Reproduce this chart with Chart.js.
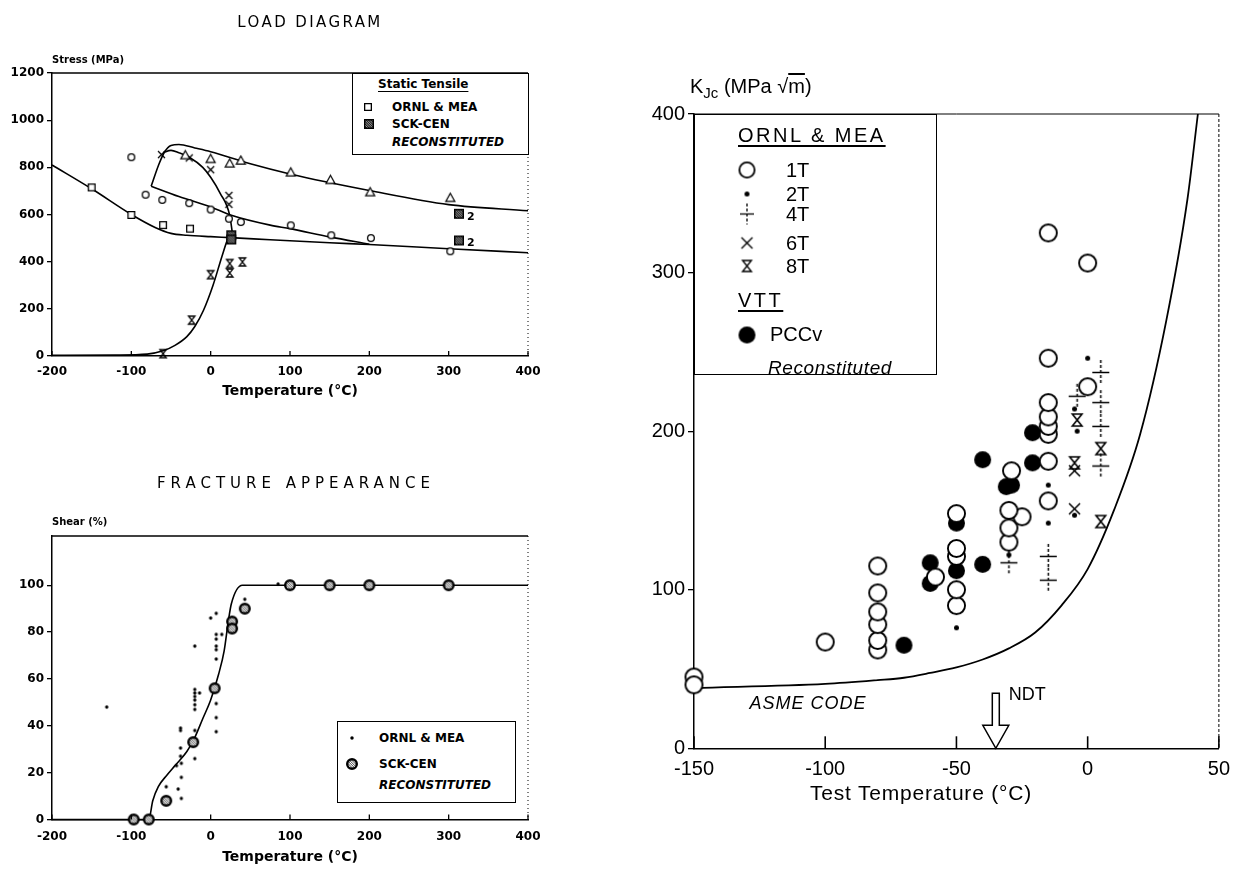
<!DOCTYPE html>
<html>
<head>
<meta charset="utf-8">
<title>Load diagram, fracture appearance and KJc</title>
<script src="https://cdn.jsdelivr.net/npm/chart.js@4.4.1/dist/chart.umd.min.js"></script>
<style>
  body { margin: 0; width: 1239px; height: 872px; position: relative; overflow: hidden; background: #fff; color: #000; font-family: "Liberation Sans", Arial, sans-serif; }
  canvas.plot { position: absolute; }
  .t { position: absolute; white-space: nowrap; line-height: 1; transform: translateY(-50%); }
  .c { transform: translate(-50%, -50%); }
  .b { font-family: "DejaVu Sans", sans-serif; font-weight: bold; }
  .box { position: absolute; border: 1.5px solid #000; background: #fff; box-sizing: border-box; }
  .sym { position: absolute; transform: translate(-50%, -50%); }
  u { text-underline-offset: 3px; }
</style>
</head>
<body>

<!-- LOAD DIAGRAM -->
<canvas id="load" class="plot" width="560" height="410" style="left:0;top:0"></canvas>
<div class="t c" style="left:310px;top:22px;font-size:15px;letter-spacing:2.4px;font-family:'DejaVu Sans'">LOAD DIAGRAM</div>
<div class="t b" style="left:52px;top:60px;font-size:10px">Stress (MPa)</div>
<div class="box" style="left:352px;top:73px;width:177px;height:82px"></div>
<div class="t b" style="left:378px;top:84px;font-size:12px"><u>Static Tensile</u></div>
<div class="t b" style="left:392px;top:107px;font-size:12px">ORNL &amp; MEA</div>
<div class="t b" style="left:392px;top:124px;font-size:12px">SCK-CEN</div>
<div class="t b" style="left:392px;top:142px;font-size:12px;font-style:italic">RECONSTITUTED</div>

<!-- FRACTURE APPEARANCE -->
<canvas id="shear" class="plot" width="560" height="410" style="left:0;top:460px"></canvas>
<div class="t c" style="left:296px;top:483px;font-size:15px;letter-spacing:5px;font-family:'DejaVu Sans'">FRACTURE APPEARANCE</div>
<div class="t b" style="left:52px;top:522px;font-size:10px">Shear (%)</div>
<div class="box" style="left:337px;top:721px;width:179px;height:82px"></div>
<div class="t b" style="left:379px;top:738px;font-size:12px">ORNL &amp; MEA</div>
<div class="t b" style="left:379px;top:764px;font-size:12px">SCK-CEN</div>
<div class="t b" style="left:379px;top:785px;font-size:12px;font-style:italic">RECONSTITUTED</div>

<!-- KJc -->
<canvas id="kjc" class="plot" width="649" height="780" style="left:590px;top:60px"></canvas>
<div class="t" style="left:690px;top:88px;font-size:20px">K<sub style="font-size:15px;vertical-align:-5px">Jc</sub> (MPa √<span style="text-decoration:overline">m</span>)</div>
<div class="box" style="left:694px;top:114px;width:243px;height:261px"></div>
<div class="t" style="left:738px;top:135px;font-size:20px;letter-spacing:2.5px"><u>ORNL &amp; MEA</u></div>
<div class="t" style="left:786px;top:170px;font-size:20px">1T</div>
<div class="t" style="left:786px;top:194px;font-size:20px">2T</div>
<div class="t" style="left:786px;top:214px;font-size:20px">4T</div>
<div class="t" style="left:786px;top:243px;font-size:20px">6T</div>
<div class="t" style="left:786px;top:266px;font-size:20px">8T</div>
<div class="t" style="left:738px;top:300px;font-size:20px;letter-spacing:2.5px"><u>VTT</u></div>
<div class="t" style="left:770px;top:334px;font-size:20px">PCCv</div>
<div class="t" style="left:768px;top:367px;font-size:19px;font-style:italic;letter-spacing:0.6px">Reconstituted</div>
<div class="t c" style="left:808px;top:703px;font-size:18px;font-style:italic;letter-spacing:1px">ASME CODE</div>
<div class="t c" style="left:921px;top:792px;font-size:21px;letter-spacing:0.8px">Test Temperature (°C)</div>

<script>
// ===== LOAD DIAGRAM (temperature °C, stress MPa) =====
const loadTempTicks = [-200, -100, 0, 100, 200, 300, 400];
const stressTicks = [0, 200, 400, 600, 800, 1000, 1200];

const ornlSquareT = [-150, -100, -60, -26];
const ornlSquareS = [715, 598, 555, 540];
const ornlCircleT = [-100, -82, -61, -27, 0, 23, 38, 101, 152, 202, 302];
const ornlCircleS = [843, 684, 662, 648, 621, 582, 568, 554, 512, 500, 444];
const ornlTriT = [-32, 0, 24, 38, 101, 151, 201, 302];
const ornlTriS = [852, 836, 817, 829, 779, 747, 695, 671];
const ornlCrossT = [-62, -27, 0, 23, 23];
const ornlCrossS = [854, 840, 790, 681, 643];
const ornlGlassT = [-60, -24, 0, 24, 24, 40];
const ornlGlassS = [10, 152, 345, 392, 352, 399];
const sckSquareT = [26, 26, 313, 313];
const sckSquareS = [512, 494, 603, 490];
const noteT = [313, 313];
const noteS = [603, 490];
const noteText = ['2', '2'];

const lowerCurveT = [-200, -150, -100, -70, -50, -30, 0, 25, 75, 150, 200, 300, 400];
const lowerCurveS = [810, 709, 600, 545, 520, 512, 506, 502, 493, 480, 473, 455, 438];
const upperCurveT = [-75, -65, -58, -50, -40, -20, 0, 50, 100, 200, 300, 400];
const upperCurveS = [720, 815, 866, 893, 897, 882, 866, 815, 772, 702, 642, 616];
const yieldCurveT = [-75, -40, 0, 25, 75, 100, 150, 200];
const yieldCurveS = [720, 676, 632, 598, 555, 540, 505, 474];
const dropCurveT = [-60, -50, -40, -27, -10, 0, 12, 24, 28];
const dropCurveS = [862, 872, 862, 843, 800, 758, 690, 596, 505];
const riseCurveT = [-200, -120, -80, -60, -45, -30, -20, -9, 3, 14, 22, 27];
const riseCurveS = [3, 4, 8, 22, 45, 82, 125, 194, 300, 420, 500, 525];

// ===== FRACTURE APPEARANCE (temperature °C, shear %) =====
const shearTempTicks = [-200, -100, 0, 100, 200, 300, 400];
const shearTicks = [0, 20, 40, 60, 80, 100];
const shearCurveT = [-200, -78, -73, -66, -55, -45, -30, -20, -10, 0, 10, 17, 22, 26, 40, 400];
const shearCurveV = [0, 0, 8, 14, 19, 23, 29, 35, 43, 51, 62, 72, 84, 92, 100, 100];
const ornlDotT = [-131, -56, -43, -41, -37, -37, -37, -38, -38, -38, -38, -20, -20, -20, -20, -20, -20, -20, -14, -20, -20, 0, 7, 7, 7, 7, 7, 7, 14, 7, 7, 7, 43, 85];
const ornlDotV = [48, 14, 23, 13, 9, 18, 24, 27, 30.5, 38, 39, 26, 38, 47, 49, 51, 52.5, 54, 54, 55.5, 74, 86, 88, 79, 77, 74, 72.5, 68.5, 79, 49.5, 43.5, 37.5, 94, 100.5];
const sckCircleT = [-97, -78, -56, -22, 5, 27, 27, 43, 100, 150, 200, 300];
const sckCircleV = [0, 0, 8, 33, 56, 84.5, 81.5, 90, 100, 100, 100, 100];

// ===== KJc vs test temperature (°C, MPa√m) =====
const kjcTempTicks = [-150, -100, -50, 0, 50];
const kjcTicks = [0, 100, 200, 300, 400];
const t1T = [-150, -150, -100, -80, -80, -80, -80, -80, -80, -58, -50, -50, -50, -50, -50, -30, -30, -25, -30, -29, -15, -15, -15, -15, -15, -15, -15, -15, 0, 0];
const t1K = [45, 40, 67, 62, 68, 78, 86, 98, 115, 108, 90, 100, 121, 126, 148, 130, 139, 146, 150, 175, 156, 181, 198, 203, 209, 218, 246, 325, 228, 306];
const t2T = [-50, -30, -15, -15, -5, -4, -5, 0];
const t2K = [76, 122, 142, 166, 147, 200, 214, 246];
const t4T = [-30, -15, -15, 5, 5, 5, -4, 5];
const t4K = [117, 106, 121, 178, 203, 218, 222, 237];
const t6T = [-5, -5];
const t6K = [151, 175];
const t8T = [5, -5, 5, -4];
const t8K = [143, 180, 189, 207];
const pccvT = [-70, -60, -60, -50, -50, -40, -40, -31, -29, -21, -21];
const pccvK = [65, 104, 117, 112, 142, 116, 182, 165, 166, 180, 199];
const asmeT = [-150, -100, -80, -70, -60, -50, -40, -30, -20, -10, 0, 10, 20, 30, 38, 42];
const asmeK = [38, 40.6, 43, 44.5, 47.5, 51, 56, 63, 73, 90, 113, 150, 198, 270, 346, 400];
const ndtTemp = -35;

// ---------- helpers ----------
Chart.defaults.color = '#000';
Chart.defaults.animation = false;
Chart.defaults.plugins.legend.display = false;
Chart.defaults.plugins.tooltip.enabled = false;

function pts(xs, ys) { return xs.map((x, i) => ({ x, y: ys[i] })); }

// little marker drawings used as pointStyle and in the boxed legends
function makeSymbol(kind, size, lw) {
  const c = document.createElement('canvas');
  c.width = Math.ceil(size + 4);
  c.height = Math.ceil((kind === 'plus' ? size * 1.45 : size) + 4);
  const g = c.getContext('2d');
  g.translate(c.width / 2, c.height / 2);
  g.lineWidth = lw;
  g.strokeStyle = '#000';
  g.fillStyle = '#000';
  const r = size / 2;
  const shape = () => {
    g.beginPath();
    if (kind === 'hatchSquare') g.rect(-r + lw / 2, -r + lw / 2, size - lw, size - lw);
    else g.arc(0, 0, r - lw / 2, 0, 2 * Math.PI);
  };
  g.beginPath();
  if (kind === 'circle') {
    g.arc(0, 0, r - lw / 2, 0, 2 * Math.PI);
    g.fillStyle = '#fff'; g.fill(); g.stroke();
  } else if (kind === 'disc' || kind === 'dot') {
    g.arc(0, 0, r, 0, 2 * Math.PI); g.fill();
  } else if (kind === 'square') {
    g.rect(-r + lw / 2, -r + lw / 2, size - lw, size - lw);
    g.fillStyle = '#fff'; g.fill(); g.stroke();
  } else if (kind === 'hatchSquare' || kind === 'hatchCircle') {
    shape();
    g.fillStyle = kind === 'hatchSquare' ? '#222' : '#fff';
    g.fill();
    g.save(); g.clip();
    g.strokeStyle = kind === 'hatchSquare' ? '#aaa' : '#333';
    g.lineWidth = 0.9;
    for (let k = -size; k < size; k += 2.4) {
      g.beginPath(); g.moveTo(k, -r); g.lineTo(k + size, r); g.stroke();
    }
    g.restore();
    shape();
    g.stroke();
  } else if (kind === 'triangle') {
    g.moveTo(0, -r); g.lineTo(r, r * 0.8); g.lineTo(-r, r * 0.8); g.closePath();
    g.fillStyle = '#fff'; g.fill(); g.stroke();
  } else if (kind === 'cross') {
    g.moveTo(-r, -r); g.lineTo(r, r); g.moveTo(r, -r); g.lineTo(-r, r); g.stroke();
  } else if (kind === 'glass') {
    const a = r * 0.8;
    g.moveTo(-a, -r); g.lineTo(a, -r); g.lineTo(-a, r); g.lineTo(a, r); g.closePath(); g.stroke();
  } else if (kind === 'plus') {
    g.moveTo(-r, 0); g.lineTo(r, 0); g.stroke();
    g.beginPath(); g.setLineDash([3, 2]);
    g.moveTo(0, -c.height / 2 + 2); g.lineTo(0, c.height / 2 - 2); g.stroke();
  }
  return c;
}

function markers(xs, ys, sym) {
  return { data: pts(xs, ys), pointStyle: sym, pointRadius: 4, showLine: false, clip: false };
}
function curve(xs, ys, w) {
  return { data: pts(xs, ys), showLine: true, pointRadius: 0, borderColor: '#000', borderWidth: w,
           cubicInterpolationMode: 'monotone', fill: false, clip: false };
}
function putSymbol(sym, x, y) {
  sym.className = 'sym';
  sym.style.left = x + 'px';
  sym.style.top = y + 'px';
  document.body.appendChild(sym);
}

// top solid edge, dotted right edge and inward x ticks
const framePlugin = {
  id: 'frame',
  afterDraw(chart, args, o) {
    const { ctx, chartArea: a, scales: { x } } = chart;
    ctx.save();
    ctx.strokeStyle = '#000';
    ctx.lineWidth = o.topWidth;
    ctx.beginPath(); ctx.moveTo(a.left, a.top); ctx.lineTo(a.right, a.top); ctx.stroke();
    ctx.lineWidth = 1;
    ctx.setLineDash(o.rightDash);
    ctx.beginPath(); ctx.moveTo(a.right, a.top); ctx.lineTo(a.right, a.bottom); ctx.stroke();
    ctx.setLineDash([]);
    ctx.lineWidth = o.tickWidth;
    x.ticks.forEach(t => {
      const px = x.getPixelForValue(t.value);
      ctx.beginPath(); ctx.moveTo(px, a.bottom); ctx.lineTo(px, a.bottom - o.tickLen); ctx.stroke();
    });
    ctx.restore();
  }
};

function axes(xTicks, yTicks, xMin, xMax, yMin, yMax, f) {
  return {
    x: {
      type: 'linear', min: xMin, max: xMax,
      afterBuildTicks: s => { s.ticks = xTicks.map(v => ({ value: v })); },
      afterFit: s => { s.height = f.xh; },
      grid: { display: false, drawTicks: false },
      border: { display: true, color: '#000', width: 1.5 },
      ticks: { autoSkip: false, maxRotation: 0, padding: f.xpad, font: f.tick, callback: v => String(v) },
      title: { display: !!f.xtitle, text: f.xtitle, font: f.title, padding: { top: 0, bottom: f.tpad } }
    },
    y: {
      type: 'linear', min: yMin, max: yMax,
      afterBuildTicks: s => { s.ticks = yTicks.map(v => ({ value: v })); },
      afterFit: s => { s.width = f.yw; },
      grid: { drawOnChartArea: false, drawTicks: true, tickLength: f.ytl, color: '#000', lineWidth: 1.3 },
      border: { display: true, color: '#000', width: 1.5 },
      ticks: { autoSkip: false, padding: 3, font: f.tick, callback: v => String(v) }
    }
  };
}

const boldTick = { family: 'DejaVu Sans', weight: 'bold', size: 12 };
const boldTitle = { family: 'DejaVu Sans', weight: 'bold', size: 14 };

// ---------- LOAD DIAGRAM ----------
new Chart(document.getElementById('load'), {
  type: 'scatter',
  data: {
    datasets: [
      markers(sckSquareT, sckSquareS, makeSymbol('hatchSquare', 10, 1.4)),
      markers(ornlSquareT, ornlSquareS, makeSymbol('square', 8, 1.3)),
      markers(ornlCircleT, ornlCircleS, makeSymbol('circle', 8, 1.3)),
      markers(ornlTriT, ornlTriS, makeSymbol('triangle', 9, 1.2)),
      markers(ornlCrossT, ornlCrossS, makeSymbol('cross', 7, 1.3)),
      markers(ornlGlassT, ornlGlassS, makeSymbol('glass', 8, 1.3)),
      curve(lowerCurveT, lowerCurveS, 1.6),
      curve(upperCurveT, upperCurveS, 1.6),
      curve(yieldCurveT, yieldCurveS, 1.6),
      curve(dropCurveT, dropCurveS, 1.6),
      curve(riseCurveT, riseCurveS, 1.6)
    ]
  },
  options: {
    responsive: false, devicePixelRatio: 1,
    layout: { padding: { top: 73, right: 32, bottom: 0, left: 0 } },
    scales: axes(loadTempTicks, stressTicks, -200, 400, 0, 1200, {
      xh: 54, xpad: 9, yw: 52, ytl: 5, tpad: 10, tick: boldTick,
      xtitle: 'Temperature (°C)', title: boldTitle
    }),
    plugins: { frame: { topWidth: 1.5, rightDash: [1, 3], tickWidth: 1.3, tickLen: 5 } }
  },
  plugins: [framePlugin, {
    id: 'notes',
    afterDatasetsDraw(chart) {
      const { ctx, scales: { x, y } } = chart;
      ctx.save();
      ctx.fillStyle = '#000';
      ctx.font = 'bold 11px "DejaVu Sans"';
      ctx.textBaseline = 'middle';
      noteText.forEach((s, i) => ctx.fillText(s, x.getPixelForValue(noteT[i]) + 8, y.getPixelForValue(noteS[i]) + 3));
      ctx.restore();
    }
  }]
});
putSymbol(makeSymbol('square', 8, 1.3), 368, 107);
putSymbol(makeSymbol('hatchSquare', 10, 1.4), 369, 124);

// ---------- FRACTURE APPEARANCE ----------
new Chart(document.getElementById('shear'), {
  type: 'scatter',
  data: {
    datasets: [
      markers(sckCircleT, sckCircleV, makeSymbol('hatchCircle', 12, 2.4)),
      markers(ornlDotT, ornlDotV, makeSymbol('dot', 3.3, 1)),
      curve(shearCurveT, shearCurveV, 1.6)
    ]
  },
  options: {
    responsive: false, devicePixelRatio: 1,
    layout: { padding: { top: 76, right: 32, bottom: 0, left: 0 } },
    scales: axes(shearTempTicks, shearTicks, -200, 400, 0, 121, {
      xh: 50.5, xpad: 10, yw: 52, ytl: 5, tpad: 4, tick: boldTick,
      xtitle: 'Temperature (°C)', title: boldTitle
    }),
    plugins: { frame: { topWidth: 1.5, rightDash: [1, 3], tickWidth: 1.3, tickLen: 5 } }
  },
  plugins: [framePlugin]
});
putSymbol(makeSymbol('dot', 3.5, 1), 352, 738);
putSymbol(makeSymbol('hatchCircle', 12, 2.4), 352, 764);

// ---------- KJc ----------
new Chart(document.getElementById('kjc'), {
  type: 'scatter',
  data: {
    datasets: [
      markers(t2T, t2K, makeSymbol('dot', 5, 1)),
      markers(t4T, t4K, makeSymbol('plus', 17, 1.5)),
      markers(t6T, t6K, makeSymbol('cross', 11, 1.5)),
      markers(t8T, t8K, makeSymbol('glass', 12, 1.6)),
      markers(t1T, t1K, makeSymbol('circle', 19, 1.9)),
      markers(pccvT, pccvK, makeSymbol('disc', 17, 1)),
      curve(asmeT, asmeK, 1.8)
    ]
  },
  options: {
    responsive: false, devicePixelRatio: 1,
    layout: { padding: { top: 54, right: 20, bottom: 0, left: 0 } },
    scales: axes(kjcTempTicks, kjcTicks, -150, 50, 0, 400, {
      xh: 91.7, xpad: 9, yw: 104, ytl: 6, tpad: 36,
      tick: { family: 'Liberation Sans', size: 20 },
      xtitle: '', title: { family: 'Liberation Sans', size: 21 }
    }),
    plugins: { frame: { topWidth: 1, rightDash: [3, 2], tickWidth: 1.6, tickLen: 12 } }
  },
  plugins: [framePlugin, {
    id: 'ndt',
    afterDatasetsDraw(chart) {
      const { ctx, chartArea: a, scales: { x } } = chart;
      const cx = x.getPixelForValue(ndtTemp);
      const tip = a.bottom, head = a.bottom - 23, tail = a.bottom - 55;
      ctx.save();
      ctx.lineWidth = 1.5;
      ctx.strokeStyle = '#000';
      ctx.fillStyle = '#fff';
      ctx.beginPath();
      ctx.moveTo(cx - 3.5, tail); ctx.lineTo(cx + 3.5, tail); ctx.lineTo(cx + 3.5, head);
      ctx.lineTo(cx + 13, head); ctx.lineTo(cx, tip); ctx.lineTo(cx - 13, head); ctx.lineTo(cx - 3.5, head);
      ctx.closePath(); ctx.fill(); ctx.stroke();
      ctx.fillStyle = '#000';
      ctx.font = '18px "Liberation Sans"';
      ctx.textBaseline = 'middle';
      ctx.fillText('NDT', cx + 13, tail + 2);
      ctx.restore();
    }
  }]
});
putSymbol(makeSymbol('circle', 17, 1.8), 747, 170);
putSymbol(makeSymbol('dot', 5, 1), 747, 194);
putSymbol(makeSymbol('plus', 14, 1.3), 747, 214);
putSymbol(makeSymbol('cross', 11, 1.4), 747, 243);
putSymbol(makeSymbol('glass', 11, 1.4), 747, 266);
putSymbol(makeSymbol('disc', 17, 1), 747, 335);
</script>
</body>
</html>
